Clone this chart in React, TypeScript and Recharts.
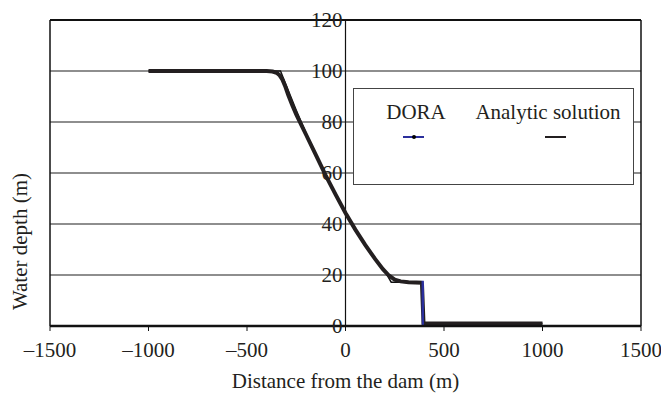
import {
  LineChart,
  Line,
  XAxis,
  YAxis,
  CartesianGrid,
  ReferenceLine,
  ReferenceDot,
  Legend,
} from "recharts";

const xTicks = [-1500, -1000, -500, 0, 500, 1000, 1500];
const yTicks = [0, 20, 40, 60, 80, 100, 120];

// DORA numerical result
const doraX = [
  -1000, -400, -370, -350, -335, -320, -305, -290, -270, -250, -225, -200, -150, -100, -50, 0, 50,
  100, 150, 190, 220, 250, 280, 320, 388, 396, 1000,
];
const doraH = [
  100, 100, 99.8, 99.3, 98.4, 96.6, 93.8, 90.5, 86.6, 83, 79, 75, 67, 59, 51.5, 44.3, 37.8, 31.8,
  26.3, 22.3, 19.8, 18.2, 17.5, 17.2, 17, 1, 1,
];

// analytic dam-break solution
const analyticX = [-1000, -330, -300, -250, -200, -150, -100, -50, 0, 50, 100, 150, 200, 232, 391, 391, 1000];
const analyticH = [100, 100, 94.2, 84.6, 75.6, 67, 59, 51.5, 44.4, 37.9, 32, 26.5, 21.5, 17.2, 17.2, 1, 1];

const doraData = doraX.map((x, i) => ({ x, h: doraH[i] }));
const analyticData = analyticX.map((x, i) => ({ x, h: analyticH[i] }));

// where the DORA curve drops (shows blue in the figure)
const doraMin = Math.min(...doraX);
const doraSpan = Math.max(...doraX) - doraMin;
const shockA = (doraX[doraX.length - 3] - doraMin) / doraSpan;
const shockB = (doraX[doraX.length - 2] - doraMin) / doraSpan;

const FONT = '"Liberation Serif", "Times New Roman", serif';
const FS = 21;
const DARK = "#231f20";
const BLUE = "#2b2f9c";

const fmtX = (v: number) => (v < 0 ? `\u2013${Math.abs(v)}` : `${v}`);

function LegendBox() {
  return (
    <div
      style={{
        position: "relative",
        width: 279,
        height: 95,
        border: "1.5px solid #444",
        background: "#fff",
        fontFamily: FONT,
        fontSize: FS,
        lineHeight: "24px",
        color: DARK,
      }}
    >
      <span style={{ position: "absolute", left: 62, top: 11, transform: "translateX(-50%)", whiteSpace: "nowrap" }}>
        DORA
      </span>
      <span style={{ position: "absolute", left: 194, top: 11, transform: "translateX(-50%)", whiteSpace: "nowrap" }}>
        Analytic solution
      </span>
      <div style={{ position: "absolute", left: 49, top: 47, width: 21, height: 2, background: BLUE }} />
      <div
        style={{ position: "absolute", left: 57.5, top: 46, width: 4, height: 4, borderRadius: 2, background: "#000" }}
      />
      <div style={{ position: "absolute", left: 191, top: 47, width: 21, height: 2, background: DARK }} />
    </div>
  );
}

export default function App() {
  return (
    <div style={{ position: "fixed", left: 0, top: 0, background: "#fff" }}>
      <LineChart width={661} height={393} margin={{ top: 20, right: 20, left: 50, bottom: 0 }}>
        <defs>
          <linearGradient id="doraStroke" x1="0" y1="0" x2="1" y2="0">
            <stop offset={0} stopColor={DARK} />
            <stop offset={shockA - 0.002} stopColor={DARK} />
            <stop offset={shockA} stopColor={BLUE} />
            <stop offset={shockB} stopColor={BLUE} />
            <stop offset={shockB + 0.002} stopColor={DARK} />
            <stop offset={1} stopColor={DARK} />
          </linearGradient>
        </defs>
        <CartesianGrid vertical={false} stroke="#1e1e1e" strokeWidth={1.2} />
        <XAxis
          type="number"
          dataKey="x"
          domain={[-1500, 1500]}
          ticks={xTicks}
          interval={0}
          tickFormatter={fmtX}
          axisLine={{ stroke: "#111", strokeWidth: 2.5 }}
          tickLine={{ stroke: "#111" }}
          tickSize={5}
          tickMargin={11}
          height={67}
          tick={{ fill: DARK, fontSize: FS, fontFamily: FONT }}
          label={{
            value: "Distance from the dam (m)",
            position: "insideBottom",
            offset: 5,
            fill: DARK,
            fontSize: FS,
            fontFamily: FONT,
          }}
        />
        <YAxis hide type="number" dataKey="h" domain={[0, 120]} ticks={yTicks} />
        <ReferenceLine y={120} stroke="#111" strokeWidth={2} />
        <ReferenceLine
          x={-1500}
          stroke="#111"
          strokeWidth={1.5}
          label={{
            value: "Water depth (m)",
            angle: -90,
            position: "left",
            offset: 30,
            fill: DARK,
            fontSize: FS,
            fontFamily: FONT,
          }}
        />
        <ReferenceLine x={1500} stroke="#111" strokeWidth={1.5} />
        <ReferenceLine x={0} stroke="#111" strokeWidth={1.2} />
        {yTicks.map((v) => (
          <ReferenceDot
            key={v}
            x={0}
            y={v}
            r={1}
            fill="none"
            stroke="none"
            ifOverflow="visible"
            label={{ value: String(v), position: "left", offset: 2, fill: DARK, fontSize: FS, fontFamily: FONT }}
          />
        ))}
        <Line
          data={analyticData}
          dataKey="h"
          name="Analytic solution"
          type="linear"
          stroke="#111"
          strokeWidth={1.5}
          dot={false}
          isAnimationActive={false}
        />
        <Line
          data={doraData}
          dataKey="h"
          name="DORA"
          type="linear"
          stroke="url(#doraStroke)"
          strokeWidth={4}
          dot={false}
          isAnimationActive={false}
        />
        <Legend
          layout="horizontal"
          verticalAlign="middle"
          align="center"
          content={<LegendBox />}
          wrapperStyle={{ left: 353, top: 88, width: 282, height: 98 }}
        />
      </LineChart>
    </div>
  );
}
